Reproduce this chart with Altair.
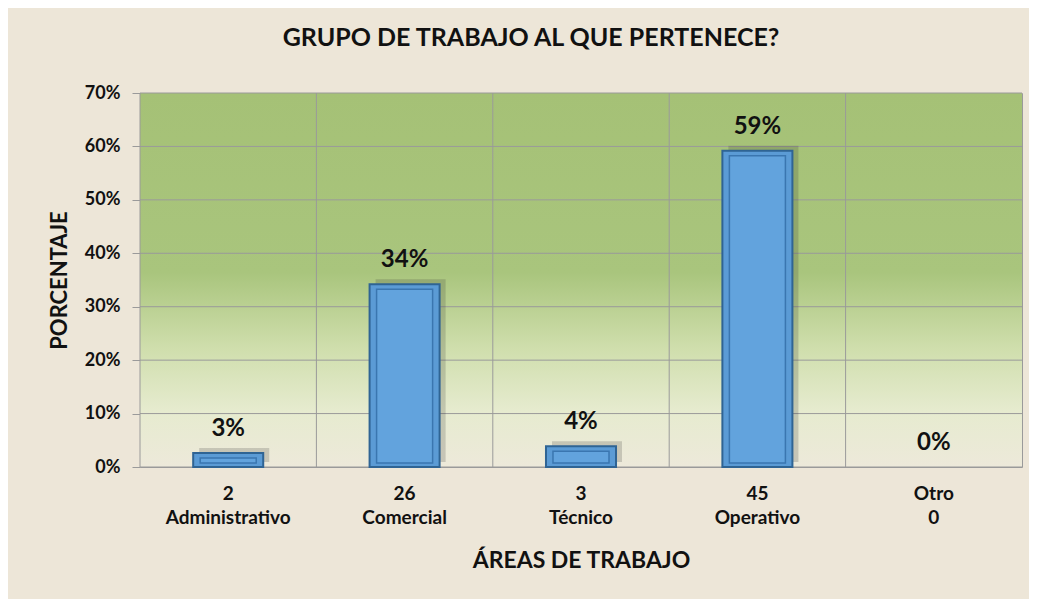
import altair as alt
import pandas as pd

# Data
areas = ["Administrativo", "Comercial", "Técnico", "Operativo", "Otro"]
tick_labels = ["2\nAdministrativo", "26\nComercial", "3\nTécnico", "45\nOperativo", "Otro\n0"]
counts = [2, 26, 3, 45, 0]
pct = [0.026, 0.342, 0.039, 0.592, 0.0]
pct_text = ["3%", "34%", "4%", "59%", "0%"]
y_ticks = [0, 0.1, 0.2, 0.3, 0.4, 0.5, 0.6, 0.7]

df = pd.DataFrame({"cat": tick_labels, "area": areas, "n": counts, "pct": pct, "txt": pct_text})
grid_df = pd.DataFrame({"pct": y_ticks})
cat_df = pd.DataFrame({"cat": tick_labels})

FONT = "Lato"
W, H = 882, 374
STEP = W / 5.0
GRID = "#9a9a9a"

xscale = alt.Scale(domain=tick_labels, paddingInner=0.603, paddingOuter=0.3015)
yscale = alt.Scale(domain=[0, 0.7], nice=False)

x_axis = alt.Axis(
    title="ÁREAS DE TRABAJO", titleFont=FONT, titleFontSize=23, titleFontWeight="bold",
    titleColor="#111", titleY=93, titleBaseline="middle",
    labelExpr="split(datum.label, '\\n')", labelFont=FONT, labelFontSize=19,
    labelFontWeight="bold", labelColor="#111", labelAngle=0, labelPadding=17,
    labelLineHeight=24, labelBaseline="top",
    ticks=False, domain=False, grid=False,
)
y_axis = alt.Axis(
    title="PORCENTAJE", titleFont=FONT, titleFontSize=22, titleFontWeight="bold",
    titleColor="#111", titleX=-81, titleY=187, titleAngle=-90,
    titleAlign="center", titleBaseline="middle",
    format=".0%", values=y_ticks,
    labelFont=FONT, labelFontSize=18, labelFontWeight="bold", labelColor="#111",
    labelPadding=12, tickSize=8, tickColor=GRID, domain=False, grid=False,
)

x_enc = alt.X("cat:N", scale=xscale, sort=tick_labels, axis=x_axis, title="ÁREAS DE TRABAJO")
y_enc = alt.Y("pct:Q", scale=yscale, axis=y_axis, title="PORCENTAJE")

grad = alt.LinearGradient(
    gradient="linear", x1=0, x2=0, y1=0, y2=1,
    stops=[
        alt.GradientStop(color="#a5c176", offset=0),
        alt.GradientStop(color="#a9c57d", offset=0.48),
        alt.GradientStop(color="#cfdeac", offset=0.68),
        alt.GradientStop(color="#e6ebcf", offset=0.85),
        alt.GradientStop(color="#ede9da", offset=1),
    ],
)

bg = alt.Chart(df).mark_rect(color=grad).encode(
    x=alt.value(0), x2=alt.value(W), y=alt.value(0), y2=alt.value(H)
)

hgrid = alt.Chart(grid_df).mark_rule(color=GRID, strokeWidth=1).encode(y=y_enc)

vgrid = alt.Chart(cat_df).mark_rule(color=GRID, strokeWidth=1, xOffset=-STEP / 2).encode(
    x=x_enc, y=alt.value(0), y2=alt.value(H),
)

bar_src = alt.Chart(df).transform_filter("datum.pct > 0")

shadow = bar_src.mark_bar(color="#333333", opacity=0.2, xOffset=6, yOffset=-5).encode(
    x=x_enc, y=y_enc
)

bars = bar_src.mark_bar(color="#5b9bd5", stroke="#2f6494", strokeWidth=2).encode(
    x=x_enc, y=y_enc
)

bevel = bar_src.mark_bar(
    width={"band": 0.8}, fill="#62a3dd", stroke="#3a76b0", strokeWidth=1.5,
    yOffset=5, y2Offset=-4,
).encode(x=x_enc, y=y_enc, y2=alt.datum(0))

labels = alt.Chart(df).mark_text(
    font=FONT, fontSize=24, fontWeight="bold", color="#111", dy=-24, baseline="middle"
).encode(x=x_enc, y=y_enc, text="txt:N")

chart = alt.layer(bg, hgrid, vgrid, shadow, bars, bevel, labels).properties(
    width=W, height=H,
    title=alt.TitleParams(
        "GRUPO DE TRABAJO AL QUE PERTENECE?", font=FONT, fontSize=25, fontWeight="bold",
        color="#111", anchor="middle", frame="group", dx=-50, offset=33,
    ),
    autosize=alt.AutoSizeParams(type="none"),
    padding={"left": 132, "top": 85, "right": 7, "bottom": 132},
).configure(background="#ede6d8").configure_view(stroke=GRID, strokeWidth=1)

chart.save("out.html", embed_options={"renderer": "svg", "actions": False})
